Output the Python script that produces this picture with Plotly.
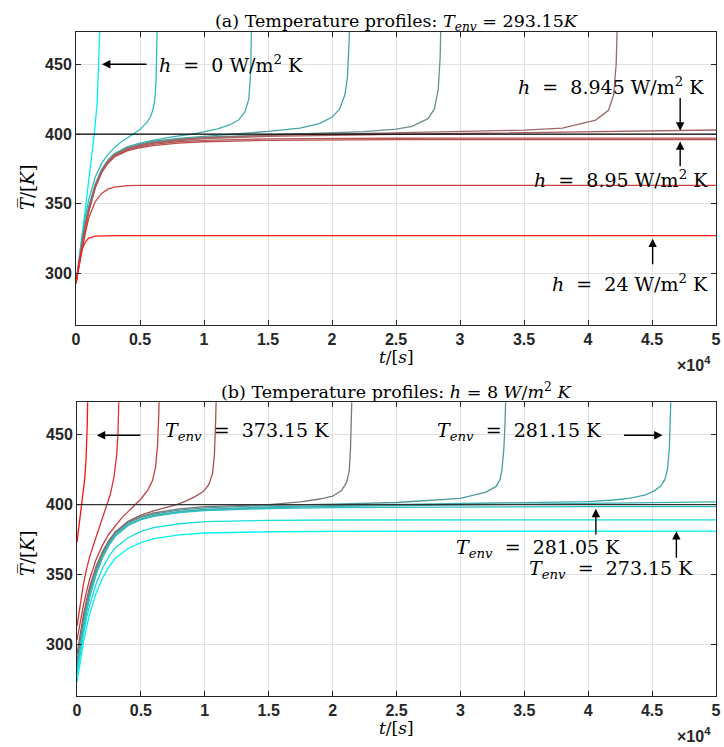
import plotly.graph_objects as go

# ---------------- data (time in units of 1e4 s, temperature in K) ----------------
grid = [0, .025, .05, .075, .1, .15, .2, .25, .3, .4, .5, .6, .8, 1.0, 1.5, 2.0, 2.5, 3.0, 3.5, 4.0, 4.5, 5.0]

# Panel (a): T_env = 293.15 K, several h values
a_t_h0 = [0, .02, .05, .078, .11, .143, .165, .18, .187, .192, .196]
a_T_h0 = [293.15, 307, 328, 350, 375, 400, 422, 450, 468, 485, 500]

a_t_2 = [0, .025, .05, .075, .1, .15, .2, .25, .3, .35, .4, .45, .5, .55, .58, .6, .615, .625, .632, .64]
a_T_2 = [293.15, 312, 328, 342, 353, 369, 379, 385.5, 390.3, 394.2, 397.4, 400.2, 403.2, 408, 412, 417, 424, 437, 455, 500]

a_t_3 = [0, .025, .05, .075, .1, .15, .2, .25, .3, .4, .5, .6, .75, .91, 1.0, 1.1, 1.2, 1.27, 1.32, 1.35, 1.365, 1.375]
a_T_3 = [293.15, 310, 324.5, 337.5, 348, 364, 374.5, 381.5, 386, 390.8, 393.5, 395.5, 398, 400, 401.8, 403.6, 406.5, 410, 416, 425, 445, 500]

a_t_4 = [0, .025, .05, .075, .1, .15, .2, .25, .3, .4, .5, .6, .8, 1.0, 1.25, 1.5, 1.75, 1.9, 2.0, 2.06, 2.1, 2.12, 2.133, 2.145]
a_T_4 = [293.15, 309.5, 323.5, 336.5, 347, 363.5, 374, 381, 385.5, 390.2, 392.8, 394.7, 396.9, 398.3, 400, 401.9, 404.3, 407.5, 412, 418, 428, 440, 465, 500]

a_t_5 = [0, .025, .05, .075, .1, .15, .2, .25, .3, .4, .5, .6, .8, 1.0, 1.5, 2.0, 2.25, 2.5, 2.625, 2.75, 2.8, 2.83, 2.845, 2.855]
a_T_5 = [293.15, 309, 323, 336, 346.5, 363, 373.8, 380.7, 385.2, 389.9, 392.4, 394.2, 396.4, 397.7, 399.5, 400.8, 401.8, 403.5, 405.5, 411, 418, 432, 455, 500]

a_t_6 = [0, .025, .05, .075, .1, .15, .2, .25, .3, .4, .5, .6, .8, 1.0, 1.5, 2.0, 2.5, 3.0, 3.5, 3.8, 4.06, 4.16, 4.2, 4.22, 4.235]
a_T_6 = [293.15, 308.5, 322.5, 335.5, 346, 362.5, 373.5, 380.4, 385, 389.6, 392, 393.8, 395.9, 397.2, 399, 400, 400.8, 401.6, 402.8, 404.3, 410, 417, 428, 450, 500]

a_T_8945 = [293.15, 308, 322, 335, 345.5, 362.2, 373.2, 380, 384.6, 389.2, 391.6, 393.3, 395.4, 396.7, 398.3, 399.2, 399.8, 400.4, 401, 401.6, 402.2, 402.9]
a_T_895 = [293.15, 307.5, 321.5, 334.5, 345, 361.8, 372.8, 379.6, 384.2, 388.7, 391, 392.6, 394.5, 395.5, 396.5, 396.9, 397.0, 397.1, 397.1, 397.1, 397.1, 397.1]
a_T_9 = [293.15, 307, 321, 334, 344.5, 361.3, 372.3, 379.1, 383.6, 388.0, 390.2, 391.7, 393.5, 394.5, 395.5, 395.9, 396.0, 396.1, 396.1, 396.1, 396.1, 396.1]
a_T_12 = [293.15, 306, 318, 330, 340, 351.5, 357.5, 360.5, 362, 363, 363.2, 363.2, 363.2, 363.2, 363.2, 363.2, 363.2, 363.2, 363.2, 363.2, 363.2, 363.2]
a_t_24 = [0, .0125, .025, .0375, .05, .075, .1, .15, .2, .3, 5.0]
a_T_24 = [293.15, 301.5, 308.5, 314, 318, 323, 325.5, 326.8, 327.1, 327.2, 327.2]

# Panel (b): h = 8 W/m^2K, several T_env values
b_t_37315 = [0, .01, .02, .03, .04, .05, .06, .07, .075, .08, .083, .086]
b_T_37315 = [373.15, 381, 389, 396, 402, 409, 418, 431, 441, 456, 472, 500]

b_t_31315 = [0, .025, .05, .075, .1, .15, .2, .23, .26, .29, .31, .32, .328, .335]
b_T_31315 = [313.15, 330, 343, 354, 363, 377, 390, 398, 407, 420, 435, 450, 470, 500]

b_t_30315 = [0, .025, .05, .075, .1, .15, .2, .25, .3, .35, .4, .455, .5, .555, .59, .615, .63, .64, .65]
b_T_30315 = [303.15, 316.5, 328, 338, 347, 361, 371, 379, 385, 390.5, 395, 400, 404, 410.6, 417, 427, 442, 465, 500]

b_t_29315 = [0, .025, .05, .075, .1, .15, .2, .25, .3, .4, .5, .6, .7, .78, .85, .92, .99, 1.03, 1.06, 1.075, 1.085, 1.095]
b_T_29315 = [293.15, 308, 321, 332, 341.5, 356, 366.5, 374.5, 380.5, 388, 392.5, 395.5, 398, 400, 402.5, 405.5, 409.5, 414, 422, 435, 460, 500]

b_t_28815 = [0, .025, .05, .075, .1, .15, .2, .25, .3, .4, .5, .6, .8, 1.0, 1.5, 1.75, 1.9, 2.0, 2.07, 2.11, 2.13, 2.14, 2.15, 2.158]
b_T_28815 = [288.15, 304, 317.5, 329.5, 339.5, 354.5, 365.5, 374, 380.2, 387.5, 391.5, 394, 397, 398.5, 400, 402, 404, 406, 410, 416, 424, 440, 470, 500]

b_t_28315 = [0, .025, .05, .075, .1, .15, .2, .25, .3, .4, .5, .6, .8, 1.0, 1.5, 2.0, 2.5, 3.0, 3.1, 3.2, 3.28, 3.31, 3.325, 3.34, 3.35, 3.36]
b_T_28315 = [283.15, 300, 314, 326.5, 337, 352.5, 364, 372.7, 379.2, 386.8, 390.8, 393.2, 396, 397.6, 399.4, 400.4, 401.5, 404.5, 406.5, 409, 413, 418, 425, 440, 460, 500]

b_t_28115 = [0, .025, .05, .075, .1, .15, .2, .25, .3, .4, .5, .6, .8, 1.0, 1.5, 2.0, 2.5, 3.0, 3.5, 4.0, 4.2, 4.33, 4.45, 4.52, 4.57, 4.6, 4.62, 4.635, 4.645, 4.655]
b_T_28115 = [281.15, 297.8, 311.8, 324.2, 334.8, 350.6, 362.4, 371.3, 377.8, 385.5, 389.7, 392.2, 395.0, 396.6, 398.4, 399.3, 399.9, 400.5, 401.2, 402.2, 403.3, 404.7, 407, 410, 413.5, 418, 425, 440, 470, 500]

b_T_2811 = [281.1, 297.7, 311.7, 324.1, 334.7, 350.5, 362.3, 371.2, 377.7, 385.3, 389.5, 391.9, 394.7, 396.2, 397.9, 398.7, 399.3, 399.8, 400.3, 400.8, 401.3, 401.9]
b_T_28105 = [281.05, 297.6, 311.6, 324.0, 334.6, 350.4, 362.2, 371.0, 377.5, 385.1, 389.2, 391.55, 394.3, 395.7, 397.2, 397.8, 398.1, 398.4, 398.5, 398.6, 398.6, 398.6]
b_T_27815 = [278.15, 293.6, 307.0, 318.6, 328.6, 343.6, 354.7, 363.0, 369.1, 376.3, 380.8, 383.5, 386.3, 387.8, 388.7, 389.0, 389.1, 389.1, 389.1, 389.1, 389.1, 389.1]
b_T_27315 = [273.15, 288.1, 301.1, 312.4, 322.1, 336.7, 347.5, 355.6, 361.6, 368.6, 372.9, 375.6, 378.3, 379.7, 380.6, 380.9, 381.0, 381.0, 381.0, 381.0, 381.0, 381.0]

T_crit = 400
t_span = [0, 5]

x_ticks = [0, 0.5, 1, 1.5, 2, 2.5, 3, 3.5, 4, 4.5, 5]
x_ticktext = ["0", "0.5", "1", "1.5", "2", "2.5", "3", "3.5", "4", "4.5", "5"]
y_ticks = [300, 350, 400, 450]
y_range = [263.15, 473.15]

# ---------------- figure ----------------
a_curves = [
    (a_t_h0, a_T_h0, "#00f2f2"),
    (a_t_2, a_T_2, "#30bcbc"),
    (a_t_3, a_T_3, "#3eadad"),
    (a_t_4, a_T_4, "#4aa2a2"),
    (a_t_5, a_T_5, "#6a9090"),
    (a_t_6, a_T_6, "#9a6a6a"),
    (grid, a_T_8945, "#aa6060"),
    (grid, a_T_895, "#b25858"),
    (grid, a_T_9, "#ba5050"),
    (grid, a_T_12, "#cc4040"),
    (a_t_24, a_T_24, "#ff1a1a"),
]
b_curves = [
    (b_t_37315, b_T_37315, "#ff1010"),
    (b_t_31315, b_T_31315, "#e03030"),
    (b_t_30315, b_T_30315, "#c04242"),
    (b_t_29315, b_T_29315, "#a05252"),
    (b_t_28815, b_T_28815, "#787878"),
    (b_t_28315, b_T_28315, "#4e9a9a"),
    (b_t_28115, b_T_28115, "#40a8a8"),
    (grid, b_T_2811, "#38b2b2"),
    (grid, b_T_28105, "#2ec0c0"),
    (grid, b_T_27815, "#18dcdc"),
    (grid, b_T_27315, "#00f2f2"),
]

fig = go.Figure()
for t, T, c in a_curves:
    fig.add_trace(go.Scatter(x=t, y=T, mode="lines", line=dict(color=c, width=1.3),
                             xaxis="x", yaxis="y", showlegend=False, hoverinfo="skip"))
fig.add_trace(go.Scatter(x=t_span, y=[T_crit, T_crit], mode="lines", line=dict(color="black", width=1.3),
                         xaxis="x", yaxis="y", showlegend=False, hoverinfo="skip"))
for t, T, c in b_curves:
    fig.add_trace(go.Scatter(x=t, y=T, mode="lines", line=dict(color=c, width=1.3),
                             xaxis="x2", yaxis="y2", showlegend=False, hoverinfo="skip"))
fig.add_trace(go.Scatter(x=t_span, y=[T_crit, T_crit], mode="lines", line=dict(color="#333333", width=1.3),
                         xaxis="x2", yaxis="y2", showlegend=False, hoverinfo="skip"))

axcol = "#262626"
tickfont = dict(family="Liberation Sans, Arial", size=16, color=axcol, weight="bold")
xa = dict(range=[0, 5], tickvals=x_ticks, ticktext=x_ticktext, showgrid=True, gridcolor="#e2e2e2",
          gridwidth=1, showline=True, linecolor=axcol, linewidth=1, mirror="ticks", ticks="inside",
          ticklen=5, tickcolor=axcol, tickfont=tickfont, zeroline=False, fixedrange=True,
          automargin=False)
ya = dict(range=y_range, tickvals=y_ticks, showgrid=True, gridcolor="#e2e2e2", gridwidth=1,
          showline=True, linecolor=axcol, linewidth=1, mirror="ticks", ticks="inside", ticklen=5,
          tickcolor=axcol, tickfont=tickfont, zeroline=False, fixedrange=True, automargin=False)

fig.update_layout(
    width=724, height=747, margin=dict(l=0, r=0, t=0, b=0, autoexpand=False),
    paper_bgcolor="white", plot_bgcolor="white",
    xaxis=dict(xa, domain=[76 / 724, 716 / 724], anchor="y"),
    yaxis=dict(ya, domain=[1 - 325 / 747, 1 - 32 / 747], anchor="x"),
    xaxis2=dict(xa, domain=[77 / 724, 716 / 724], anchor="y2"),
    yaxis2=dict(ya, domain=[1 - 696 / 747, 1 - 402.3 / 747], anchor="x2"),
)

serif = dict(family="DejaVu Serif", size=17, color="black")
ann = []
def paper_text(text, x, y, size=17, angle=0, xanchor="center", font=None):
    f = dict(serif) if font is None else dict(font)
    f["size"] = size
    ann.append(dict(text=text, x=x, y=y, xref="paper", yref="paper", showarrow=False,
                    xanchor=xanchor, yanchor="middle", textangle=angle, font=f))

paper_text("(a) Temperature profiles: <i>T<sub>env</sub></i> = 293.15<i>K</i>", 396 / 724, 1 - 22 / 747, 17.5)
paper_text("(b) Temperature profiles: <i>h</i> = 8 <i>W</i>/<i>m</i><sup>2</sup> <i>K</i>", 396 / 724, 1 - 390.7 / 747, 17.5)
paper_text("<i>t</i>/[<i>s</i>]", 396 / 724, 1 - 357 / 747, 17)
paper_text("<i>t</i>/[<i>s</i>]", 396 / 724, 1 - 728 / 747, 17)
sans = dict(family="Liberation Sans, Arial", size=16, color=axcol, weight="bold")
paper_text("×10<sup>4</sup>", 694 / 724, 1 - 364 / 747, 16, font=sans)
paper_text("×10<sup>4</sup>", 694 / 724, 1 - 735 / 747, 16, font=sans)
paper_text("<i>T\u0305</i>/[<i>K</i>]", 27 / 724, 1 - 187 / 747, 18, angle=-90)
paper_text("<i>T\u0305</i>/[<i>K</i>]", 27 / 724, 1 - 553 / 747, 18, angle=-90)

def data_text(text, x, y, xr, yr, xanchor):
    ann.append(dict(text=text, x=x, y=y, xref=xr, yref=yr, showarrow=False, xanchor=xanchor,
                    yanchor="middle", font=dict(serif, size=19)))

def arrow(x0, y0, x1, y1, xr, yr):
    ann.append(dict(text="", x=x1, y=y1, ax=x0, ay=y0, xref=xr, yref=yr, axref=xr, ayref=yr,
                    showarrow=True, arrowhead=2, arrowsize=1.2, arrowwidth=1.4, arrowcolor="black"))

EQ = "&nbsp;&nbsp;=&nbsp;&nbsp;"
# panel (a) annotations
data_text("<i>h</i>" + EQ + "0 W/m<sup>2</sup> K", 0.63, 450, "x", "y", "left")
arrow(0.5625, 450, 0.203, 450, "x", "y")
data_text("<i>h</i>" + EQ + "8.945 W/m<sup>2</sup> K", 4.92, 434.6, "x", "y", "right")
arrow(4.72, 426.9, 4.72, 402.4, "x", "y")
data_text("<i>h</i>" + EQ + "8.95 W/m<sup>2</sup> K", 4.95, 368, "x", "y", "right")
arrow(4.72, 375.9, 4.72, 394.7, "x", "y")
data_text("<i>h</i>" + EQ + "24 W/m<sup>2</sup> K", 4.95, 293.5, "x", "y", "right")
arrow(4.505, 305.7, 4.505, 325, "x", "y")

# panel (b) annotations
data_text("<i>T<sub>env</sub></i>" + EQ + "373.15 K", 0.676, 452.5, "x2", "y2", "left")
arrow(0.508, 449.6, 0.155, 449.6, "x2", "y2")
data_text("<i>T<sub>env</sub></i>" + EQ + "281.15 K", 2.80, 452.5, "x2", "y2", "left")
arrow(4.268, 449.6, 4.582, 449.6, "x2", "y2")
data_text("<i>T<sub>env</sub></i>" + EQ + "281.05 K", 2.95, 368.6, "x2", "y2", "left")
arrow(4.06, 377.5, 4.06, 397, "x2", "y2")
data_text("<i>T<sub>env</sub></i>" + EQ + "273.15 K", 3.52, 353.9, "x2", "y2", "left")
arrow(4.69, 361, 4.69, 381, "x2", "y2")

fig.update_layout(annotations=ann)
fig.write_html("out.html", config={"displayModeBar": False},
               post_script="document.body.style.margin='0px';document.body.style.overflow='hidden';")
